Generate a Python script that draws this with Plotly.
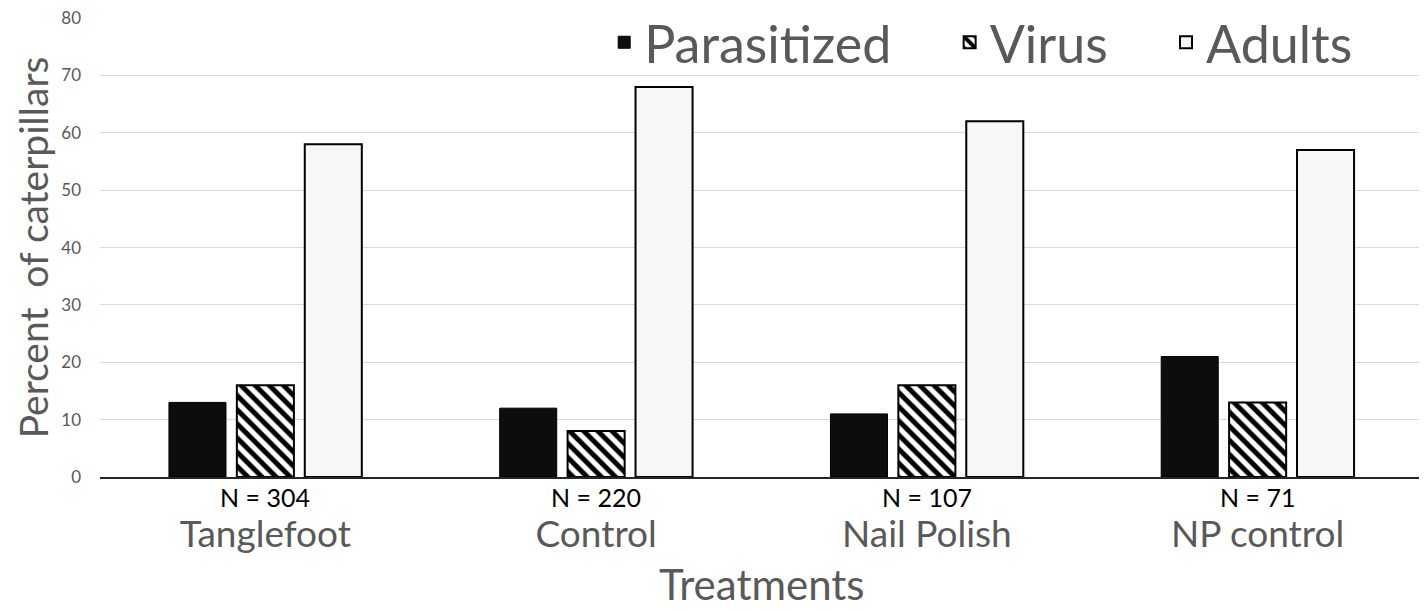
import plotly.graph_objects as go

treatments = ["Tanglefoot", "Control", "Nail Polish", "NP control"]
sample_sizes = ["N = 304", "N = 220", "N = 107", "N = 71"]
parasitized = [13, 12, 11, 21]
virus = [16, 8, 16, 13]
adults = [58, 68, 62, 57]

FONT = "Lato"
GRAY = "#595959"
NBSP = "\u00a0"

fig = go.Figure()
fig.add_trace(go.Bar(
    x=treatments, y=parasitized, name="Parasitized" + NBSP * 4,
    marker=dict(color="#0d0d0d", line=dict(color="#000000", width=1)),
))
fig.add_trace(go.Bar(
    x=treatments, y=virus, name="Virus" + NBSP * 4,
    marker=dict(
        color="#ffffff",
        line=dict(color="#000000", width=2),
        pattern=dict(shape="\\", fgcolor="#000000", bgcolor="#ffffff",
                     size=10, solidity=0.5, fgopacity=1),
    ),
))
fig.add_trace(go.Bar(
    x=treatments, y=adults, name="Adults",
    marker=dict(color="#f7f7f7", line=dict(color="#000000", width=2)),
))

# N labels under each group
for t, n in zip(treatments, sample_sizes):
    fig.add_annotation(
        x=t, y=0, xref="x", yref="y", text=n, showarrow=False,
        yanchor="middle", yshift=-20, font=dict(size=25, color="#000000"),
    )

# x axis title, placed by hand so the bottom margin stays fixed
fig.add_annotation(
    x=0.5, y=-0.234, xref="paper", yref="paper", text="Treatments",
    showarrow=False, yanchor="middle", borderpad=0,
    font=dict(size=42, color=GRAY),
)

# page body adds an 8px margin, so the figure is sized to fit the window
fig.update_layout(
    width=1419, height=603,
    barmode="group", bargap=0.384, bargroupgap=0.16,
    plot_bgcolor="white", paper_bgcolor="white",
    font=dict(family=FONT, color=GRAY),
    margin=dict(l=92, r=4, t=10, b=134, autoexpand=False),
    legend=dict(
        orientation="h", x=0.951, xanchor="right", y=1.035, yanchor="top",
        font=dict(size=52, color=GRAY), bgcolor="rgba(255,255,255,0)",
    ),
)
fig.update_xaxes(
    tickfont=dict(size=37, color=GRAY), ticklabelstandoff=24,
    showline=True, linecolor="#262626", linewidth=2,
    ticks="", automargin=False,
)
fig.update_yaxes(
    range=[0, 80.02], tickmode="array", tickvals=[0, 10, 20, 30, 40, 50, 60, 70, 80],
    showgrid=True, gridcolor="#d9d9d9", gridwidth=1,
    zeroline=False, automargin=False, ticklabeloverflow="allow",
    tickfont=dict(size=17, color=GRAY), ticks="", ticklabelstandoff=18,
    title=dict(text="Percent  of caterpillars", font=dict(size=39, color=GRAY), standoff=0),
)

fig.write_html("out.html")
